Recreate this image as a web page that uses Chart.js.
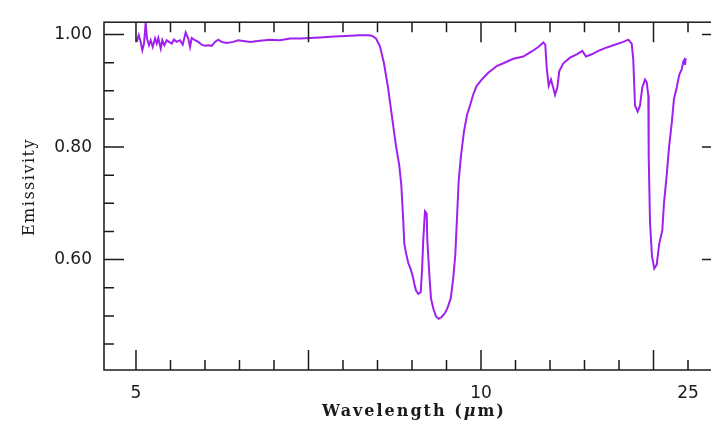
<!DOCTYPE html>
<html>
<head>
<meta charset="utf-8">
<script src="https://cdn.jsdelivr.net/npm/chart.js"></script>
<style>
html, body { margin: 0; padding: 0; background: #fff; overflow: hidden; }
#wrap { width: 740px; height: 422px; }
</style>
</head>
<body>
<div id="wrap"><canvas id="myChart"></canvas></div>
<script>
// wavelength in micron, emissivity
var wavelength = [5.005,5.020,5.034,5.046,5.059,5.071,5.081,5.096,5.109,5.124,
  5.142,5.155,5.167,5.186,5.198,5.214,5.233,5.251,5.273,5.291,
  5.313,5.341,5.363,5.388,5.410,5.425,5.439,5.467,5.496,5.526,
  5.556,5.585,5.616,5.646,5.677,5.709,5.757,5.821,5.870,5.990,
  6.095,6.205,6.319,6.437,6.559,6.686,6.818,6.956,7.099,7.248,
  7.403,7.533,7.599,7.667,7.735,7.805,7.877,7.949,8.023,8.085,
  8.123,8.162,8.181,8.214,8.259,8.307,8.347,8.380,8.415,8.462,
  8.512,8.540,8.567,8.603,8.640,8.653,8.697,8.734,8.785,8.846,
  8.908,8.977,9.055,9.120,9.193,9.257,9.307,9.350,9.393,9.452,
  9.530,9.610,9.691,9.782,9.877,10.020,10.216,10.477,10.691,11.033,
  11.397,11.723,11.992,12.204,12.291,12.352,12.441,12.545,12.624,12.731,
  12.840,12.936,13.133,13.477,13.839,14.157,14.375,14.725,15.152,15.611,
  16.220,17.020,17.451,17.756,17.903,18.063,18.322,18.548,18.781,19.061,
  19.242,19.415,19.459,19.603,19.828,20.093,20.378,20.696,21.075,21.296,
  21.657,21.975,22.359,22.697,23.108,23.517,23.909,24.177,24.348,24.468,24.590];
var emissivity = [0.987,0.999,0.987,0.972,0.984,1.021,0.993,0.981,0.990,0.978,
  0.993,0.984,0.994,0.975,0.990,0.981,0.990,0.987,0.984,0.991,
  0.987,0.990,0.982,1.004,0.993,0.978,0.994,0.990,0.987,0.982,
  0.980,0.981,0.980,0.987,0.991,0.987,0.985,0.987,0.990,0.987,
  0.989,0.991,0.990,0.993,0.993,0.994,0.995,0.996,0.997,0.998,
  0.999,0.999,0.998,0.993,0.979,0.949,0.906,0.854,0.802,0.767,
  0.733,0.667,0.629,0.612,0.594,0.583,0.571,0.557,0.545,0.539,
  0.542,0.580,0.636,0.686,0.682,0.635,0.574,0.531,0.513,0.499,
  0.495,0.498,0.505,0.515,0.531,0.568,0.609,0.675,0.741,0.785,
  0.828,0.857,0.874,0.894,0.909,0.920,0.932,0.944,0.949,0.957,
  0.961,0.970,0.978,0.986,0.982,0.941,0.909,0.920,0.909,0.893,
  0.906,0.935,0.949,0.959,0.965,0.971,0.961,0.965,0.971,0.976,
  0.981,0.987,0.991,0.984,0.955,0.874,0.863,0.874,0.906,0.920,
  0.915,0.892,0.785,0.666,0.606,0.584,0.591,0.629,0.652,0.701,
  0.750,0.799,0.842,0.886,0.906,0.929,0.938,0.952,0.955,0.946,0.958];

var xTickWavelengths = [5, 10, 25];
var xTickLabels = ['5', '10', '25'];
var yTickValues = [0.6, 0.8, 1.0];
var yTickLabels = ['0.60', '0.80', '1.00'];

// axis is linear in wavenumber (cm^-1), shown as wavelength
var points = wavelength.map(function (w, i) {
  return { x: 10000 / w, y: emissivity[i] };
});

// tick marks every 100 cm^-1 and every 0.05 in emissivity
var xTickMarks = [];
for (var k = 400; k <= 2000; k += 100) xTickMarks.push(k);
var yTickMarks = [];
for (var j = 9; j <= 20; j++) yTickMarks.push(j * 0.05);

var axisColor = '#1a1a1a';

var framePlugin = {
  id: 'frame',
  afterDraw: function (chart) {
    var ctx = chart.ctx, a = chart.chartArea;
    var xs = chart.scales.x, ys = chart.scales.y;
    ctx.save();
    ctx.strokeStyle = axisColor;
    ctx.lineWidth = 1.5;
    ctx.strokeRect(a.left, a.top, a.right - a.left, a.bottom - a.top);
    ctx.beginPath();
    xs.ticks.forEach(function (t) {
      var px = xs.getPixelForValue(t.value);
      var len = Math.round(t.value) % 500 === 0 ? 20 : 10;
      ctx.moveTo(px, a.bottom); ctx.lineTo(px, a.bottom - len);
      ctx.moveTo(px, a.top); ctx.lineTo(px, a.top + len);
    });
    ys.ticks.forEach(function (t) {
      var py = ys.getPixelForValue(t.value);
      var len = Math.round(t.value * 100) % 20 === 0 ? 20 : 10;
      ctx.moveTo(a.left, py); ctx.lineTo(a.left + len, py);
      ctx.moveTo(a.right, py); ctx.lineTo(a.right - len, py);
    });
    ctx.stroke();

    // axis titles
    ctx.fillStyle = axisColor;
    ctx.textBaseline = 'alphabetic';
    ctx.letterSpacing = '2px';
    var parts = [['bold 16px "DejaVu Serif"', 'Wavelength ('],
                 ['bold italic 16px "DejaVu Serif"', 'μ'],
                 ['bold 16px "DejaVu Serif"', 'm)']];
    var total = 0;
    parts.forEach(function (p) { ctx.font = p[0]; total += ctx.measureText(p[1]).width; });
    var x = (a.left + a.right) / 2 - total / 2 + 1;
    parts.forEach(function (p) {
      ctx.font = p[0];
      ctx.fillText(p[1], x, 416);
      x += ctx.measureText(p[1]).width;
    });

    ctx.letterSpacing = '1.5px';
    ctx.font = '16px "DejaVu Serif"';
    ctx.translate(33.5, 187);
    ctx.rotate(-Math.PI / 2);
    ctx.textAlign = 'center';
    ctx.fillText('Emissivity', 0, 0);
    ctx.restore();
  }
};

var ctx = document.getElementById('myChart').getContext('2d');
var myChart = new Chart(ctx, {
  type: 'line',
  data: {
    datasets: [{
      data: points,
      borderColor: '#a020f0',
      borderWidth: 2,
      pointRadius: 0,
      tension: 0,
      fill: false
    }]
  },
  options: {
    responsive: true,
    maintainAspectRatio: false,
    animation: false,
    layout: { padding: { top: 13, right: 18, left: 0, bottom: 0 } },
    plugins: { legend: { display: false }, tooltip: { enabled: false } },
    scales: {
      x: {
        type: 'linear',
        reverse: true,
        min: 301.45,
        max: 2092.75,
        grid: { display: false, drawTicks: false },
        border: { display: false },
        afterFit: function (s) { s.height = 52; },
        afterBuildTicks: function (s) {
          s.ticks = xTickMarks.map(function (v) { return { value: v }; });
        },
        ticks: {
          autoSkip: false,
          maxRotation: 0,
          padding: 13,
          color: axisColor,
          font: { family: 'DejaVu Sans', size: 17 },
          callback: function (v) {
            for (var i = 0; i < xTickWavelengths.length; i++) {
              if (Math.abs(10000 / xTickWavelengths[i] - v) < 1) return xTickLabels[i];
            }
            return '';
          }
        }
      },
      y: {
        min: 0.4038,
        max: 1.022,
        grid: { display: false, drawTicks: false },
        border: { display: false },
        afterFit: function (s) { s.width = 104; },
        afterBuildTicks: function (s) {
          s.ticks = yTickMarks.map(function (v) { return { value: v }; });
        },
        ticks: {
          autoSkip: false,
          padding: 12,
          color: axisColor,
          font: { family: 'DejaVu Sans', size: 17 },
          callback: function (v) {
            for (var i = 0; i < yTickValues.length; i++) {
              if (Math.abs(yTickValues[i] - v) < 0.001) return yTickLabels[i];
            }
            return '';
          }
        }
      }
    }
  },
  plugins: [framePlugin]
});
</script>
</body>
</html>
